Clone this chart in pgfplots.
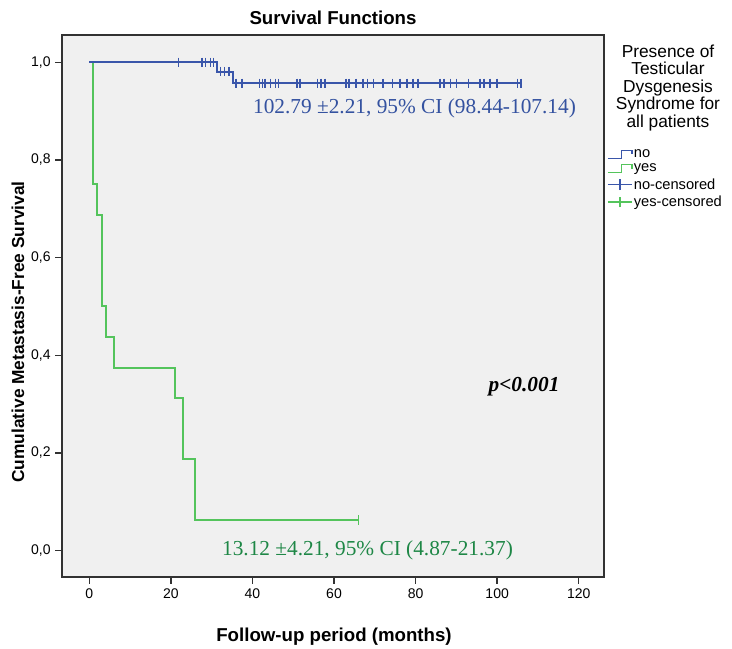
\documentclass[border=0pt]{standalone}
\usepackage{pgfplots}
\pgfplotsset{compat=1.18}
\usepackage{fontspec}
\setmainfont{Liberation Sans}
\newfontfamily\serifann{Liberation Serif}

\definecolor{kmblue}{RGB}{58,86,170}
\definecolor{kmgreen}{RGB}{84,196,92}
\definecolor{txtblue}{RGB}{52,82,160}
\definecolor{txtgreen}{RGB}{30,135,70}
\definecolor{plotbg}{RGB}{240,240,240}
\definecolor{framec}{RGB}{50,50,50}

\pgfplotsset{
  kmstep/.style={legend image code/.code={%
    \draw[##1] (0pt,-3pt) -- (10pt,-3pt) -- (10pt,3pt) -- (18pt,3pt) -- (18pt,0pt);}},
  kmcens/.style={legend image code/.code={%
    \draw[##1] (0pt,0pt) -- (18pt,0pt); \draw[##1] (9pt,-4pt) -- (9pt,4pt);}},
}

\begin{document}
\begin{tikzpicture}[x=0.75pt,y=0.75pt]
\path[use as bounding box] (0,0) rectangle (732,649);
\begin{axis}[
  at={(46.5pt,54pt)}, anchor=south west,
  scale only axis, width=406.5pt, height=406.5pt,
  xmin=-6.7, xmax=126.2, ymin=-0.054, ymax=1.056,
  axis background/.style={fill=plotbg},
  axis line style={framec, line width=1.1pt},
  xtick={0,20,40,60,80,100,120}, ytick={0,0.2,0.4,0.6,0.8,1},
  tick align=outside, xtick pos=lower, ytick pos=left,
  major tick length=5pt,
  tick style={framec, line width=1pt},
  yticklabel style={/pgf/number format/.cd, fixed, fixed zerofill, precision=1, use comma},
  /pgf/number format/assume math mode=true,
  tick label style={font=\fontsize{10.5}{12}\selectfont},
  legend style={at={(0.998,0.797)}, anchor=north west, draw=none, fill=none,
    font=\fontsize{11}{13}\selectfont, row sep=1.5pt,
    nodes={inner sep=1pt}},
  legend cell align=left,
]
% legend symbols
\addlegendimage{kmstep, kmblue, line width=1pt}
\addlegendentry{no}
\addlegendimage{kmstep, kmgreen, line width=1pt}
\addlegendentry{yes}
\addlegendimage{kmcens, kmblue, line width=1pt}
\addlegendentry{no-censored}
\addlegendimage{kmcens, kmgreen, line width=1pt}
\addlegendentry{yes-censored}

% yes group
\addplot[const plot, kmgreen, line width=1.5pt, forget plot] coordinates {
  (0,1) (1,0.75) (2,0.6875) (3,0.5) (4,0.4375) (6,0.375)
  (21,0.3125) (23,0.1875) (26,0.0625) (66,0.0625)
};
\addplot[only marks, mark=|, mark size=3.5pt, kmgreen, mark options={line width=1.1pt}, forget plot] coordinates {
  (66,0.0625)
};

% no group
\addplot[const plot, kmblue, line width=1.5pt, forget plot] coordinates {
  (0,1) (31.3,0.981) (35.2,0.957) (105.8,0.957)
};
\addplot[only marks, mark=|, mark size=3.5pt, kmblue, mark options={line width=1.1pt}, forget plot] coordinates {
  (21.9,1) (27.6,1) (28.5,1) (29.7,1) (30.4,1)
  (32.1,0.981) (33.1,0.981) (34.3,0.981)
  (36,0.957) (37.4,0.957) (41.7,0.957) (42.5,0.957) (43.1,0.957)
  (44.4,0.957) (45.6,0.957) (46.4,0.957) (50.9,0.957) (51.7,0.957)
  (56,0.957) (56.8,0.957) (57.8,0.957) (62.9,0.957) (63.7,0.957)
  (65.4,0.957) (67.1,0.957) (68.2,0.957) (69.7,0.957) (72,0.957)
  (74.3,0.957) (76.2,0.957) (77.9,0.957) (79.4,0.957) (80.6,0.957)
  (86,0.957) (87,0.957) (88.5,0.957) (90,0.957) (93,0.957)
  (95.8,0.957) (96.8,0.957) (98.3,0.957) (100,0.957) (105,0.957) (105.8,0.957)
};

\node[anchor=west, font=\serifann\fontsize{16}{18}\selectfont, text=txtblue] at (axis cs:39,0.905) {102.79 ±2.21, 95\% CI (98.44-107.14)};
\node[anchor=west, font=\serifann\fontsize{16}{18}\selectfont, text=txtgreen] at (axis cs:31.4,0.0) {13.12 ±4.21, 95\% CI (4.87-21.37)};
\node[font=\serifann\bfseries\itshape\fontsize{16}{18}\selectfont] at (axis cs:106.6,0.335) {p<0.001};
\end{axis}

\node[font=\bfseries\fontsize{14}{16}\selectfont] at (333,631) {Survival Functions};
\node[font=\bfseries\fontsize{14}{16}\selectfont] at (334,12) {Follow-up period (months)};
\node[rotate=90, font=\bfseries\fontsize{13}{15}\selectfont] at (18,317) {Cumulative Metastasis-Free Survival};
\node[align=center, font=\fontsize{13}{13.1}\selectfont] at (668,561) {Presence of\\Testicular\\Dysgenesis\\Syndrome for\\all patients};
\end{tikzpicture}
\end{document}
